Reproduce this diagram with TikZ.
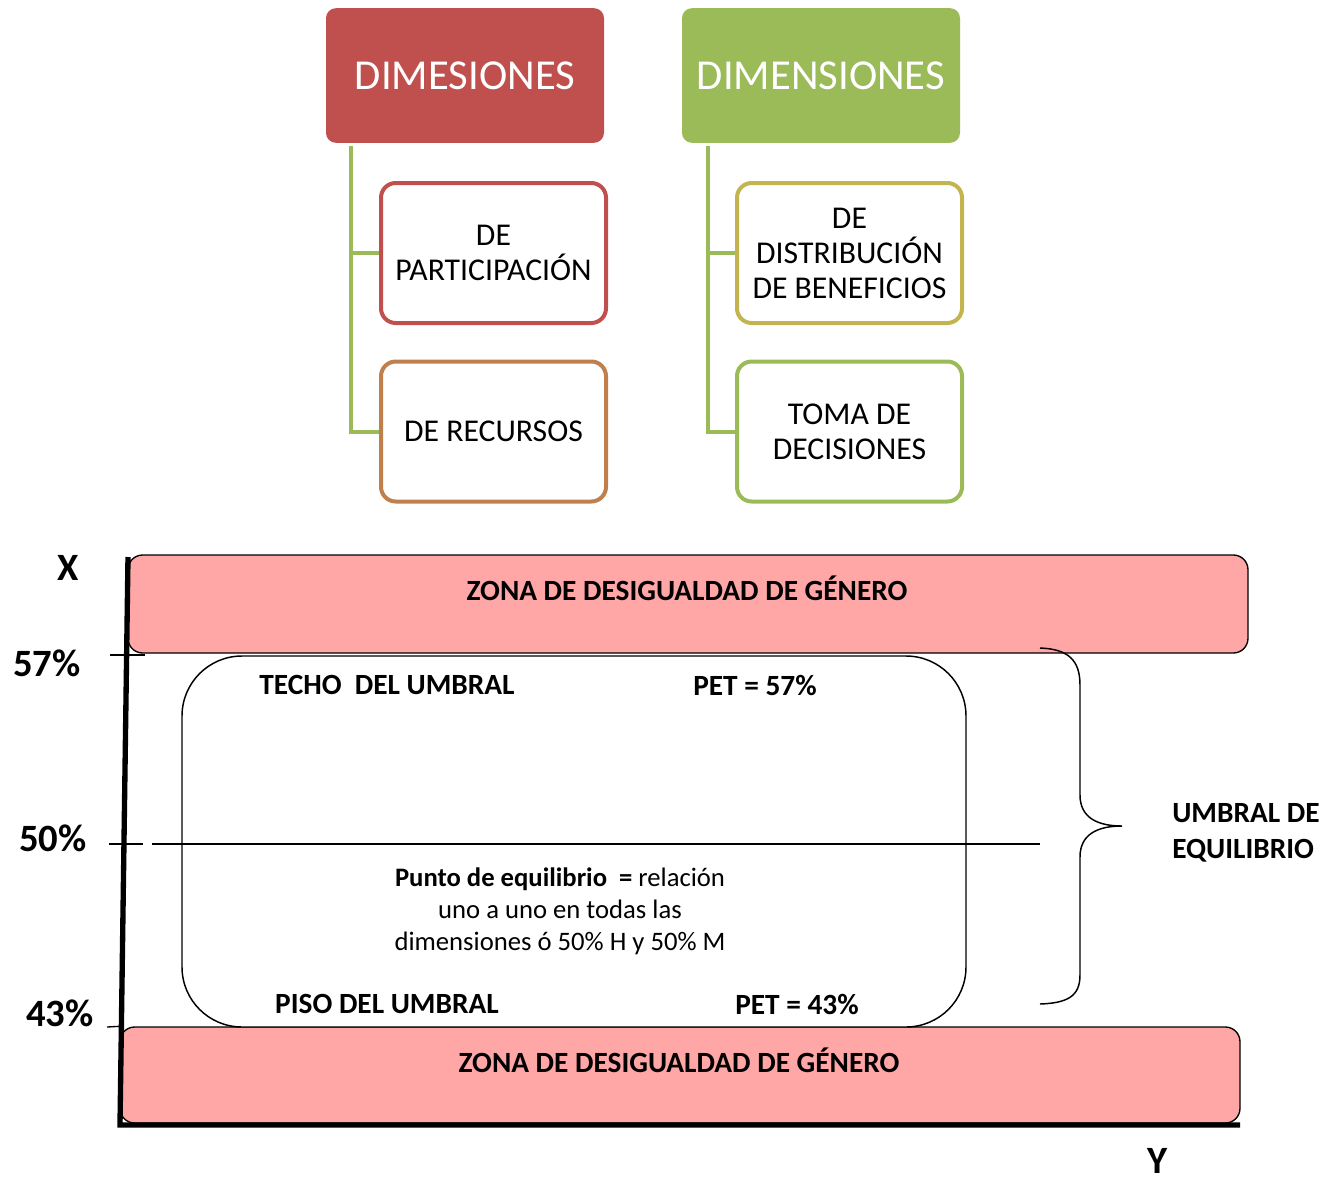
\documentclass[tikz,border=0pt]{standalone}
\usepackage{fontspec}
\setmainfont{Carlito}
\definecolor{cred}{HTML}{C0504D}
\definecolor{cgreen}{HTML}{9BBB59}
\definecolor{cbrown}{HTML}{C0804D}
\definecolor{colive}{HTML}{C4B44F}
\definecolor{cpink}{HTML}{FFA6A6}
\begin{document}
\begin{tikzpicture}[x=0.75pt,y=-0.75pt,
  head/.style={rounded corners=7.5pt, minimum width=208.5pt, minimum height=101pt, inner sep=0pt, text=white, font=\fontsize{32}{38}\selectfont},
  child/.style={draw, line width=3pt, rounded corners=11pt, fill=white, minimum width=168.75pt, minimum height=105pt, inner sep=0pt, align=center, font=\fontsize{23.8}{26.25}\selectfont},
  conn/.style={draw=cgreen, line width=3pt},
  band/.style={draw=black, line width=1pt, fill=cpink, rounded corners=11pt, inner sep=0pt},
  inner/.style={draw=black, line width=1.1pt, fill=white, rounded corners=45pt, inner sep=0pt},
  lbl/.style={inner sep=0pt, font=\fontsize{22}{26}\selectfont\bfseries},
  pct/.style={inner sep=0pt, font=\fontsize{29}{33}\selectfont\bfseries},
  axis/.style={line width=4pt, line cap=butt},
  thin/.style={line width=1pt}
]
\useasboundingbox (0,0) rectangle (1322,1186);

% ---------- top part ----------
\node[head, fill=cred] (h1) at (465,75.5) {DIMESIONES};
\node[head, fill=cgreen] (h2) at (821,75.5) {DIMENSIONES};

\node[child, draw=cred] (c1) at (493.5,253) {DE\\PARTICIPACIÓN};
\node[child, draw=cbrown] (c2) at (493.5,431.5) {DE RECURSOS};
\node[child, draw=colive] (c3) at (849.5,253) {DE\\DISTRIBUCIÓN\\DE BENEFICIOS};
\node[child, draw=cgreen] (c4) at (849.5,431.5) {TOMA DE\\DECISIONES};

\coordinate (l0) at (351,146);
\coordinate (r0) at (708,146);
\draw[conn] (l0) |- (c2.west);
\draw[conn] (l0) |- (c1.west);
\draw[conn] (r0) |- (c4.west);
\draw[conn] (r0) |- (c3.west);

% ---------- bottom part ----------
\node[band, minimum width=840pt, minimum height=73.5pt] (b1) at (688,604) {};
\node[band, minimum width=840pt, minimum height=72pt] (b2) at (680,1075) {};
\node[inner, minimum width=588pt, minimum height=278.25pt] (ir) at (574,841.5) {};

\node[lbl] (t1) at (687,588) {ZONA DE DESIGUALDAD DE GÉNERO};
\node[lbl] (t2) at (679,1060) {ZONA DE DESIGUALDAD DE GÉNERO};

\node[lbl] (techo) at (387,685) {TECHO\ \ DEL UMBRAL};
\node[lbl] (pet57) at (755,685) {PET = 57\%};
\node[lbl] (piso) at (387,1004) {PISO DEL UMBRAL};
\node[lbl] (pet43) at (797,1004) {PET = 43\%};

\node[inner sep=0pt, align=center, font=\fontsize{20}{24}\selectfont] (punto) at (560,911)
  {\textbf{Punto de equilibrio\ \ =} relación\\uno a uno en todas las\\dimensiones ó 50\% H y 50\% M};

% middle line
\coordinate (m0) at (109,844);
\coordinate (m1) at (143,844);
\coordinate (m2) at (152,844);
\coordinate (m3) at (1040,844);
\draw[thin] (m0) -- (m1);
\draw[thin] (m2) -- (m3);

% ticks
\coordinate (k57a) at (110,655);
\coordinate (k57b) at (145,655);
\draw[thin] (k57a) -- (k57b);
\coordinate (k43a) at (107,1027);
\draw[thin] (k43a) -- (b2.north west);

% axes
\coordinate (ytop) at (128,557);
\coordinate (orig) at (120,1125);
\coordinate (xend) at (1240,1125);
\draw[axis] (ytop) -- (orig) -- (xend);

% brace
\coordinate (bt) at (1040,648);
\coordinate (bb) at (1040,1004);
\coordinate (btip) at (1122,826);
\draw[line width=1.1pt] (bt) .. controls (1068,649) and (1080,660) .. (1080,685)
  -- (1080,795) .. controls (1080,818) and (1098,826) .. (btip)
  .. controls (1098,826) and (1080,834) .. (1080,857)
  -- (1080,975) .. controls (1080,996) and (1068,1003) .. (bb);

\node[inner sep=0pt, anchor=west, align=left, font=\fontsize{22}{27}\selectfont\bfseries] (umb) at (1172,833) {UMBRAL DE\\EQUILIBRIO};

\node[pct] (X) at (68,568) {X};
\node[pct] (Y) at (1158,1161) {Y};
\node[pct] (p57) at (47,663) {57\%};
\node[pct] (p50) at (53,838) {50\%};
\node[pct] (p43) at (60,1013) {43\%};
\end{tikzpicture}
\end{document}
